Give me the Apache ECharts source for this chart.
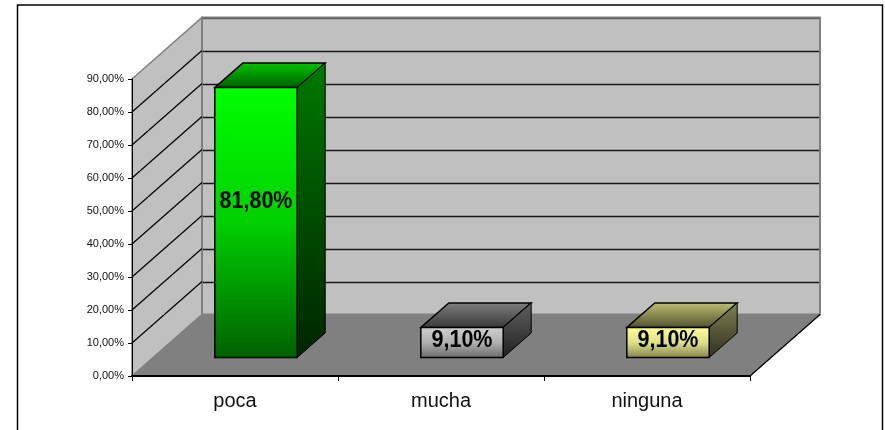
<!doctype html>
<html>

<head>
	<meta charset="utf-8">
	<title></title>
	<script src="https://cdn.jsdelivr.net/npm/echarts@6/dist/echarts.min.js"></script>
	<style>
		html, body { margin: 0; padding: 0; background: #fff; }
		#main { width: 885px; height: 430px; }
	</style>
</head>

<body>
	<div id="main"></div>
	<script type="text/javascript">
		var categories = ['poca', 'mucha', 'ninguna'];
		var values = [81.8, 9.1, 9.1];
		var yTicks = [0, 10, 20, 30, 40, 50, 60, 70, 80, 90];

		// [front top, front bottom, top back, top front, side top, side bottom, front middle]
		var barColors = [
			['#00ff00', '#006000', '#00c400', '#005c00', '#007800', '#002400', '#00d000'],
			['#d0d0d0', '#686868', '#808080', '#383838', '#606060', '#202020', '#b0b0b0'],
			['#ffff99', '#808050', '#c0c070', '#505030', '#808050', '#303020', '#e0e088']
		];

		// how far the 3d depth runs on screen
		var depthX = 70;
		var depthY = -61.5;

		function fmt(v) {
			return v.toFixed(2).replace('.', ',') + '%';
		}

		function grad(a, b, mid) {
			var stops = [{ offset: 0, color: a }, { offset: 1, color: b }];
			if (mid) stops.splice(1, 0, { offset: 0.5, color: mid });
			return new echarts.graphic.LinearGradient(0, 0, 0, 1, stops);
		}

		function poly(points, fill, stroke, lineWidth) {
			return {
				type: 'polygon',
				shape: { points: points },
				style: { fill: fill, stroke: stroke, lineWidth: lineWidth || 1 }
			};
		}

		function line(a, b, color, lineWidth) {
			return {
				type: 'line',
				shape: { x1: a[0], y1: a[1], x2: b[0], y2: b[1] },
				style: { stroke: color, lineWidth: lineWidth || 1 }
			};
		}

		function renderWalls(params, api) {
			var cs = params.coordSys;
			var l = cs.x, r = cs.x + cs.width, b = cs.y + cs.height, t = cs.y;
			var kids = [
				// floor
				poly([[l, b], [r, b], [r + depthX, b + depthY], [l + depthX, b + depthY]], '#808080', '#808080'),
				// left wall
				poly([[l, b], [l + depthX, b + depthY], [l + depthX, t + depthY], [l, t]], '#c0c0c0', '#808080', 1.5),
				// back wall
				poly([[l + depthX, b + depthY], [r + depthX, b + depthY], [r + depthX, t + depthY], [l + depthX, t + depthY]], '#c0c0c0', '#808080', 2)
			];
			yTicks.forEach(function (v) {
				if (v === 0) return;
				var y = api.coord([0, v])[1];
				if (v < 90) kids.push(line([l, y], [l + depthX, y + depthY], '#000', 1.2));
				var wy = Math.round(y + depthY) + 0.5;
				kids.push(line([l + depthX + 1, wy], [r + depthX - 1, wy], v === 90 ? '#606060' : '#181818', 1.4));
			});
			kids.push(line([r, b], [r + depthX, b + depthY], '#000', 1.2));
			return { type: 'group', children: kids };
		}

		function renderBar(params, api) {
			var i = api.value(0);
			var v = api.value(1);
			var base = api.coord([i, 0]);
			var top = api.coord([i, v]);
			var half = api.size([1, 0])[0] * 0.2;
			var c = barColors[i];
			// bar stands from 0.3 to 0.7 of the depth
			var fx = depthX * 0.3, fy = depthY * 0.3;
			var dx = depthX * 0.4, dy = depthY * 0.4;
			var x0 = base[0] - half + fx, x1 = base[0] + half + fx;
			var y0 = top[1] + fy, y1 = base[1] + fy;
			var labelX = (x0 + x1) / 2;
			var labelY = y0 + (y1 - y0) * 0.42;
			return {
				type: 'group',
				children: [
					poly([[x0, y0], [x1, y0], [x1 + dx, y0 + dy], [x0 + dx, y0 + dy]], grad(c[2], c[3]), '#000', 1.5),
					poly([[x1, y0], [x1 + dx, y0 + dy], [x1 + dx, y1 + dy], [x1, y1]], grad(c[4], c[5]), '#000', 1),
					poly([[x0, y0], [x1, y0], [x1, y1], [x0, y1]], grad(c[0], c[1], c[6]), '#000', 1.5),
					{
						type: 'text',
						x: labelX,
						y: labelY,
						scaleY: 1.12,
						style: {
							x: 0,
							y: 0,
							text: fmt(v),
							fill: '#000',
							align: 'center',
							verticalAlign: 'middle',
							font: 'bold 21.5px "Liberation Sans", Arial, sans-serif'
						}
					}
				]
			};
		}

		var myChart = echarts.init(document.getElementById('main'), null, { renderer: 'canvas' });

		var option = {
			animation: false,
			backgroundColor: '#fff',
			graphic: [{
				// the frame runs off the bottom of the picture
				type: 'rect',
				shape: { x: 17.5, y: 5, width: 865, height: 440 },
				style: { fill: 'none', stroke: '#000', lineWidth: 1.5 },
				silent: true
			}],
			grid: { left: 132, right: 135, top: 79, bottom: 54 },
			xAxis: {
				type: 'category',
				data: categories,
				z: 6,
				axisLine: { lineStyle: { color: '#000', width: 2 } },
				axisTick: { show: true, alignWithLabel: false, length: 5, lineStyle: { color: '#000' } },
				axisLabel: { color: '#111', fontSize: 20, margin: 15, fontFamily: '"Liberation Sans", Arial, sans-serif' }
			},
			yAxis: {
				type: 'value',
				min: 0,
				max: 90,
				interval: 10,
				z: 6,
				splitLine: { show: false },
				axisLine: { show: true, lineStyle: { color: '#000', width: 1 } },
				axisTick: { show: true, length: 4, lineStyle: { color: '#000' } },
				axisLabel: {
					color: '#111',
					fontSize: 11,
					margin: 8,
					fontFamily: '"Liberation Sans", Arial, sans-serif',
					formatter: fmt
				}
			},
			series: [
				{
					type: 'custom',
					z: 1,
					silent: true,
					renderItem: renderWalls,
					clip: false,
					data: [[0, 0]]
				},
				{
					type: 'custom',
					z: 3,
					silent: true,
					renderItem: renderBar,
					clip: false,
					data: values.map(function (v, i) { return [i, v]; })
				}
			]
		};

		myChart.setOption(option);
	</script>
</body>

</html>
